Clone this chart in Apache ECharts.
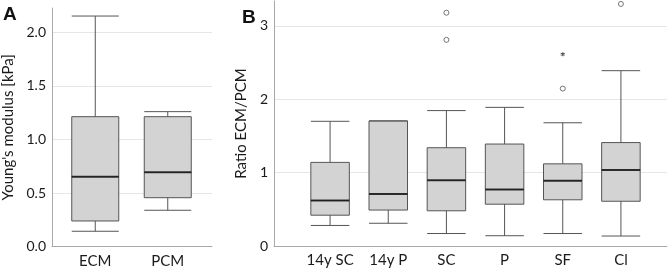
<!DOCTYPE html>
<html>
<head>
<meta charset="utf-8">
<script src="https://cdn.jsdelivr.net/npm/echarts@6/dist/echarts.min.js"></script>
<style>
  html, body { margin: 0; padding: 0; background: #fff; }
  #chart { width: 671px; height: 270px; }
</style>
</head>
<body>
<div id="chart"></div>
<script>
// Panel A: Young's modulus per region
const catsA = ['ECM', 'PCM'];
// [min, Q1, median, Q3, max]
const boxesA = [
  [0.144, 0.24, 0.653, 1.213, 2.152],
  [0.34, 0.457, 0.694, 1.213, 1.26]
];

// Panel B: ratio ECM/PCM per group
const catsB = ['14y SC', '14y P', 'SC', 'P', 'SF', 'Cl'];
const boxesB = [
  [0.28, 0.42, 0.62, 1.14, 1.70],
  [0.31, 0.49, 0.71, 1.705, 1.705],
  [0.17, 0.48, 0.895, 1.34, 1.846],
  [0.14, 0.57, 0.77, 1.39, 1.89],
  [0.17, 0.63, 0.89, 1.12, 1.68],
  [0.136, 0.61, 1.037, 1.41, 2.39]
];
const outliersB = [['SC', 3.18], ['SC', 2.81], ['SF', 2.146], ['Cl', 3.30]];
const extremesB = [['SF', 2.615]];

const ticksA = [0, 0.5, 1, 1.5, 2];
const ticksB = [0, 1, 2, 3];

const font = 'Lato, "Open Sans", sans-serif';
const textColor = '#1a1a1a';
const axisColor = '#a8a8a8';
const gridColor = '#e6e6e6';
const boxFill = '#d3d3d3';
const boxEdge = '#555';

const chart = echarts.init(document.getElementById('chart'));

function frameY(max, interval, ticks, digits, name, nameGap, gridIndex) {
  return {
    type: 'value', gridIndex: gridIndex, min: 0, max: max, interval: interval,
    name: name, nameLocation: 'middle', nameGap: nameGap,
    nameTextStyle: { color: textColor, fontFamily: font, fontSize: 15 },
    axisLine: { show: true, lineStyle: { color: axisColor, width: 1 } },
    axisTick: { show: false },
    axisLabel: {
      color: textColor, fontFamily: font, fontSize: 14, margin: 6,
      formatter: v => ticks.some(t => Math.abs(t - v) < 1e-6) ? v.toFixed(digits) : ''
    },
    splitLine: { show: true, showMinLine: false, showMaxLine: false, lineStyle: { color: gridColor, width: 1 } }
  };
}

function dataY(max, gridIndex) {
  return { type: 'value', gridIndex: gridIndex, min: 0, max: max, show: false, splitLine: { show: false } };
}

function dataX(cats, gridIndex) {
  return {
    type: 'category', gridIndex: gridIndex, data: cats,
    axisLine: { show: false }, axisTick: { show: false },
    axisLabel: { color: textColor, fontFamily: font, fontSize: 15, margin: 7, interval: 0 }
  };
}

function frameX(gridIndex) {
  return {
    type: 'value', gridIndex: gridIndex, min: 0, max: 1,
    axisLine: { show: true, onZero: false, lineStyle: { color: axisColor, width: 1 } },
    axisTick: { show: false }, axisLabel: { show: false }, splitLine: { show: false }
  };
}

const maxA = 2.227;
const maxB = 3.34;

function boxSeries(data, xi, yi, w) {
  return {
    type: 'boxplot', xAxisIndex: xi, yAxisIndex: yi, data: data,
    boxWidth: [w, w], silent: true,
    itemStyle: { color: boxFill, borderColor: boxEdge, borderWidth: 1 }
  };
}

function medianSeries(cats, data, xi, yi, w) {
  return {
    type: 'scatter', xAxisIndex: xi, yAxisIndex: yi, silent: true,
    symbol: 'rect', symbolSize: [w, 2],
    itemStyle: { color: '#111' },
    data: data.map((d, i) => [cats[i], d[2]]),
    z: 5
  };
}

const option = {
  animation: false,
  backgroundColor: '#fff',
  grid: [
    { left: 51, top: 8, width: 161, height: 238.7 },
    { left: 59, top: 8, width: 145, height: 238.7 },
    { left: 274, top: 1, width: 393, height: 245 },
    { left: 301, top: 1, width: 349, height: 245 }
  ],
  xAxis: [frameX(0), dataX(catsA, 1), frameX(2), dataX(catsB, 3)],
  yAxis: [
    frameY(maxA, 0.5, ticksA, 1, "Young's modulus [kPa]", 36, 0),
    dataY(maxA, 1),
    frameY(maxB, 1, ticksB, 0, 'Ratio ECM/PCM', 16, 2),
    dataY(maxB, 3)
  ],
  series: [
    boxSeries(boxesA, 1, 1, 47),
    medianSeries(catsA, boxesA, 1, 1, 47),
    boxSeries(boxesB, 3, 3, 38.5),
    medianSeries(catsB, boxesB, 3, 3, 38.5),
    {
      type: 'scatter', xAxisIndex: 3, yAxisIndex: 3, silent: true,
      symbol: 'circle', symbolSize: 5,
      itemStyle: { color: '#fff', borderColor: '#555', borderWidth: 1 },
      data: outliersB
    },
    {
      type: 'scatter', xAxisIndex: 3, yAxisIndex: 3, silent: true,
      symbol: 'path://M5,0L5,10M0,2.5L10,7.5M0,7.5L10,2.5', symbolSize: 4,
      itemStyle: { color: 'none', borderColor: '#333', borderWidth: 1.2 },
      data: extremesB
    }
  ],
  graphic: [
    { type: 'text', left: 3, top: 5, style: { text: 'A', fill: '#111', font: 'bold 19px "Liberation Sans", Arial, sans-serif' } },
    { type: 'text', left: 242, top: 8, style: { text: 'B', fill: '#111', font: 'bold 19px "Liberation Sans", Arial, sans-serif' } }
  ]
};

chart.setOption(option);
</script>
</body>
</html>
